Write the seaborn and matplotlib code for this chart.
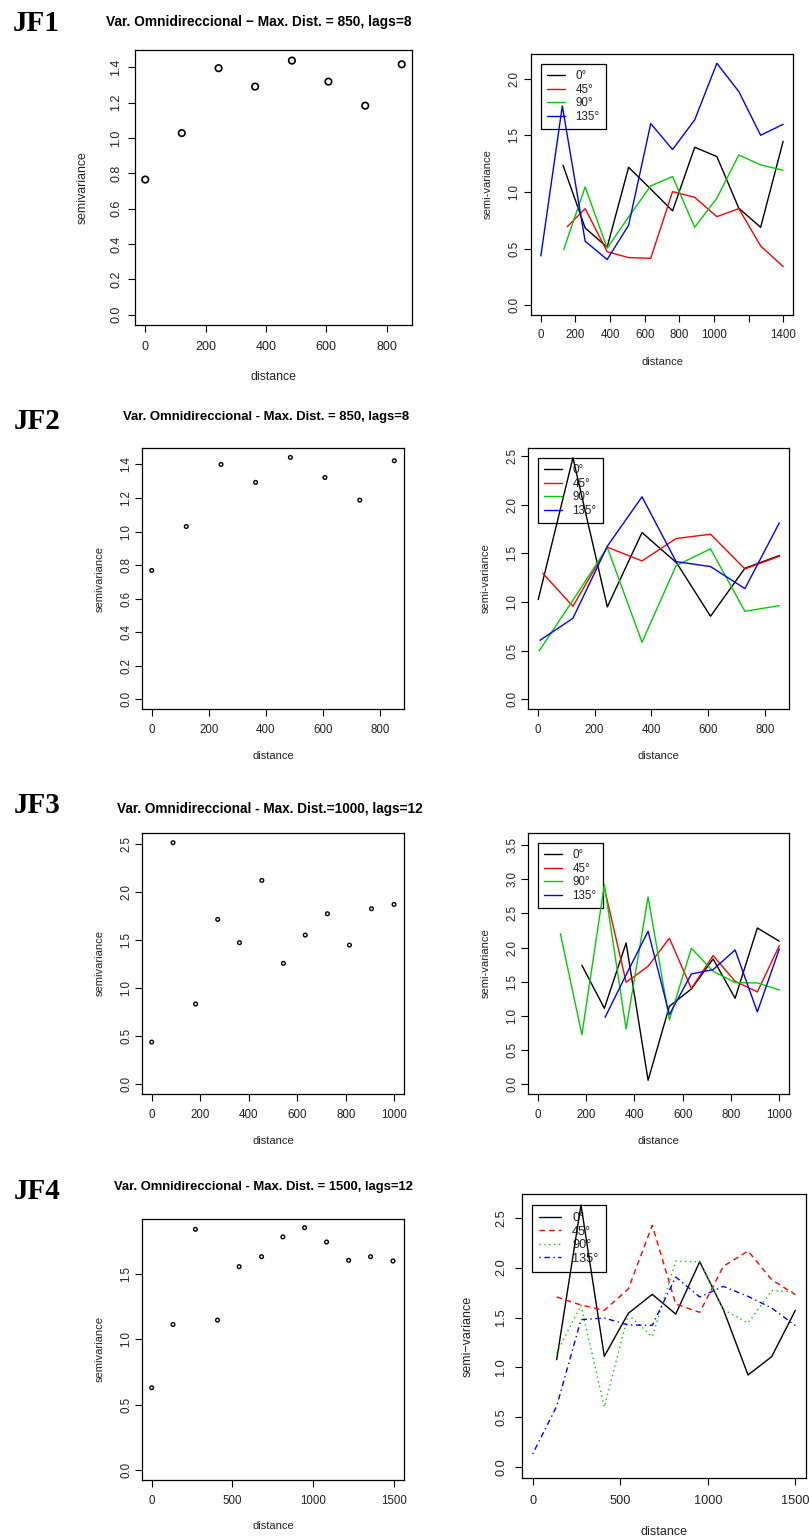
import numpy as np
import pandas as pd
import matplotlib
matplotlib.use("Agg")
import matplotlib.pyplot as plt
from matplotlib.lines import Line2D
import seaborn as sns

# ---------------- data ----------------
DIRS = ["0°", "45°", "90°", "135°"]
PAL = {"0°": "black", "45°": "red", "90°": "#00CD00", "135°": "blue"}

# omnidirectional variograms (left column)
jf1_omni_x = [0, 121, 243, 364, 486, 607, 729, 850]
jf1_omni_y = [0.765, 1.028, 1.395, 1.291, 1.438, 1.319, 1.183, 1.417]
jf2_omni_x = [0, 121, 243, 364, 486, 607, 729, 850]
jf2_omni_y = [0.768, 1.030, 1.400, 1.293, 1.442, 1.322, 1.187, 1.422]
jf3_omni_x = [0, 88, 181, 272, 362, 454, 543, 633, 724, 815, 906, 999]
jf3_omni_y = [0.440, 2.514, 0.836, 1.716, 1.474, 2.122, 1.259, 1.553, 1.775, 1.449, 1.827, 1.872]
jf4_omni_x = [0, 132, 271, 408, 542, 681, 813, 948, 1084, 1221, 1357, 1496]
jf4_omni_y = [0.628, 1.112, 1.839, 1.145, 1.554, 1.630, 1.781, 1.852, 1.742, 1.602, 1.630, 1.597]

# directional variograms (right column)
jf1_d0_x = [128, 256, 383, 507, 636, 761, 889, 1017, 1144, 1270, 1400]
jf1_d0_y = [1.237, 0.683, 0.513, 1.219, 1.025, 0.834, 1.396, 1.314, 0.857, 0.689, 1.449]
jf1_d45_x = [153, 256, 383, 507, 635, 761, 889, 1017, 1144, 1270, 1400]
jf1_d45_y = [0.695, 0.854, 0.474, 0.421, 0.415, 1.004, 0.954, 0.783, 0.854, 0.524, 0.342]
jf1_d90_x = [132, 256, 383, 507, 635, 761, 889, 1017, 1144, 1270, 1400]
jf1_d90_y = [0.492, 1.046, 0.504, 0.780, 1.055, 1.137, 0.689, 0.946, 1.328, 1.240, 1.193]
jf1_d135_x = [0, 124, 256, 383, 507, 635, 761, 889, 1017, 1144, 1270, 1400]
jf1_d135_y = [0.436, 1.761, 0.566, 0.404, 0.707, 1.605, 1.376, 1.638, 2.138, 1.888, 1.502, 1.599]

jf2_d0_x = [2, 124, 245, 367, 489, 608, 729, 850]
jf2_d0_y = [1.024, 2.479, 0.949, 1.712, 1.400, 0.853, 1.346, 1.476]
jf2_d45_x = [18, 124, 245, 367, 487, 608, 729, 850]
jf2_d45_y = [1.295, 0.955, 1.562, 1.421, 1.651, 1.695, 1.339, 1.469]
jf2_d90_x = [5, 124, 245, 367, 487, 608, 729, 850]
jf2_d90_y = [0.497, 1.017, 1.560, 0.586, 1.373, 1.545, 0.904, 0.962]
jf2_d135_x = [8, 124, 245, 367, 487, 608, 729, 850]
jf2_d135_y = [0.606, 0.832, 1.572, 2.079, 1.414, 1.363, 1.137, 1.812]

jf3_d0_x = [183, 276, 366, 457, 545, 636, 726, 817, 909, 1000]
jf3_d0_y = [1.740, 1.109, 2.067, 0.054, 1.139, 1.393, 1.833, 1.256, 2.287, 2.092]
jf3_d45_x = [276, 366, 457, 545, 636, 726, 817, 909, 1000]
jf3_d45_y = [2.874, 1.491, 1.725, 2.136, 1.398, 1.882, 1.505, 1.349, 2.028]
jf3_d90_x = [94, 183, 276, 366, 457, 545, 636, 726, 817, 909, 1000]
jf3_d90_y = [2.204, 0.723, 2.923, 0.806, 2.742, 0.938, 1.989, 1.652, 1.486, 1.481, 1.378]
jf3_d135_x = [279, 366, 457, 545, 636, 726, 817, 909, 1000]
jf3_d135_y = [0.978, 1.600, 2.239, 1.017, 1.613, 1.676, 1.965, 1.056, 1.979]

jf4_lag_x = [137, 276, 409, 546, 683, 817, 954, 1089, 1230, 1365, 1500]
jf4_d0_y = [1.078, 2.627, 1.111, 1.542, 1.732, 1.535, 2.059, 1.580, 0.925, 1.108, 1.572]
jf4_d45_y = [1.706, 1.625, 1.572, 1.786, 2.423, 1.635, 1.552, 2.013, 2.166, 1.879, 1.729]
jf4_d90_y = [1.145, 1.622, 0.604, 1.529, 1.308, 2.066, 2.056, 1.579, 1.445, 1.769, 1.756]
jf4_d135_x = [0, 137, 276, 409, 546, 683, 817, 954, 1089, 1230, 1365, 1500]
jf4_d135_y = [0.134, 0.611, 1.479, 1.495, 1.425, 1.422, 1.906, 1.706, 1.812, 1.712, 1.595, 1.419]

titles = [
    "Var. Omnidireccional \u2212 Max. Dist. = 850, lags=8",
    "Var. Omnidireccional - Max. Dist. = 850, lags=8",
    "Var. Omnidireccional - Max. Dist.=1000, lags=12",
    "Var. Omnidireccional - Max. Dist. = 1500, lags=12",
]
panel_labels = ["JF1", "JF2", "JF3", "JF4"]

# ---------------- style ----------------
sns.set_style("ticks")
plt.rcParams["font.family"] = ["Liberation Sans", "DejaVu Sans"]

W, H = 809, 1540
fig = plt.figure(figsize=(W / 100, H / 100), dpi=100)
PT = 100 / 72.0


def make_ax(box):
    x0, y0, x1, y1 = box
    return fig.add_axes([x0 / W, 1 - y1 / H, (x1 - x0) / W, (y1 - y0) / H])


def finish(ax, box, xlim, ylim, xticks, xlabels, yticks, ylabels, ylabel,
           tick_fs, lab_fs, ypad, xpad, ylab_off, xlab_off):
    w = box[2] - box[0]
    h = box[3] - box[1]
    ax.set_xlim(xlim)
    ax.set_ylim(ylim)
    ax.set_xticks(xticks)
    ax.set_xticklabels(xlabels)
    ax.set_yticks(yticks)
    ax.set_yticklabels(ylabels, rotation=90, va="center")
    ax.tick_params(axis="both", direction="out", length=5, width=0.8,
                   color="black", labelsize=tick_fs, labelcolor="#222222")
    ax.tick_params(axis="y", pad=ypad)
    ax.tick_params(axis="x", pad=xpad)
    for s in ax.spines.values():
        s.set_visible(True)
        s.set_linewidth(0.9)
        s.set_color("black")
    ax.set_xlabel("distance", fontsize=lab_fs, color="#222222")
    ax.set_ylabel(ylabel, fontsize=lab_fs, color="#222222")
    ax.xaxis.set_label_coords(0.5, -xlab_off / h)
    ax.xaxis.label.set_va("center")
    ax.yaxis.set_label_coords(-ylab_off / w, 0.5)
    ax.yaxis.label.set_va("center")
    ax.grid(False)


def omni(ax, x, y, s, lw):
    sns.scatterplot(x=x, y=y, ax=ax, color="black", s=s, marker="o",
                    linewidth=lw, legend=False)
    coll = ax.collections[-1]
    coll.set_facecolor("none")
    coll.set_edgecolor("black")


def directional(ax, box, series, leg_xy, leg_fs, dashes=None, ls=0.12,
                hlen=1.5):
    frames = [pd.DataFrame({"dist": xs, "gamma": ys, "dir": d})
              for d, (xs, ys) in series.items()]
    df = pd.concat(frames, ignore_index=True)
    kw = dict(data=df, x="dist", y="gamma", hue="dir", hue_order=DIRS,
              palette=PAL, estimator=None, sort=False, ax=ax, legend=False,
              linewidth=1.0)
    if dashes is not None:
        kw.update(style="dir", style_order=DIRS, dashes=dashes)
    sns.lineplot(**kw)
    for ln in ax.get_lines():
        ln.set_zorder(3)
    handles = []
    for d in DIRS:
        if dashes is not None and dashes[d] != "":
            handles.append(Line2D([], [], color=PAL[d], lw=1.0, dashes=dashes[d]))
        else:
            handles.append(Line2D([], [], color=PAL[d], lw=1.0, linestyle="-"))
    w = box[2] - box[0]
    h = box[3] - box[1]
    fx = (leg_xy[0] - box[0]) / w
    fy = 1 - (leg_xy[1] - box[1]) / h
    leg = ax.legend(handles, DIRS, loc="upper left", bbox_to_anchor=(fx, fy),
                    borderaxespad=0, frameon=True, fancybox=False,
                    edgecolor="black", facecolor="white", framealpha=1,
                    fontsize=leg_fs, borderpad=0.55, labelspacing=ls,
                    handlelength=hlen, handletextpad=0.9)
    leg.get_frame().set_linewidth(0.9)
    for t in leg.get_texts():
        t.set_color("#222222")
    leg.set_zorder(2.5)


# ---------------- panels ----------------
B1L = (135, 50, 412, 325)
B1R = (531, 54, 793, 315)
B2L = (142, 448, 404, 709)
B2R = (528, 448, 789, 709)
B3L = (142, 833, 404, 1094)
B3R = (528, 833, 789, 1094)
B4L = (142, 1219, 404, 1480)
B4R = (522, 1194, 806, 1478)

y14 = [0, 0.2, 0.4, 0.6, 0.8, 1.0, 1.2, 1.4]
y14l = ["0.0", "0.2", "0.4", "0.6", "0.8", "1.0", "1.2", "1.4"]

# JF1
ax = make_ax(B1L)
omni(ax, jf1_omni_x, jf1_omni_y, s=22, lw=1.2)
finish(ax, B1L, (-34, 884), (-0.058, 1.498), [0, 200, 400, 600, 800],
       ["0", "200", "400", "600", "800"], y14, y14l, "semivariance",
       9, 8.8, 6 / PT * 1.0, 9 / PT, 52, 52)

ax = make_ax(B1R)
directional(ax, B1R, {"0°": (jf1_d0_x, jf1_d0_y), "45°": (jf1_d45_x, jf1_d45_y),
                      "90°": (jf1_d90_x, jf1_d90_y), "135°": (jf1_d135_x, jf1_d135_y)},
            (541, 64), 8.4)
finish(ax, B1R, (-57, 1457), (-0.086, 2.22), [0, 200, 400, 600, 800, 1000, 1200, 1400],
       ["0", "200", "400", "600", "800", "1000", "", "1400"],
       [0, 0.5, 1.0, 1.5, 2.0], ["0.0", "0.5", "1.0", "1.5", "2.0"], "semi-variance",
       8.3, 8.1, 4 / PT, 7 / PT, 43, 47)

# JF2
ax = make_ax(B2L)
omni(ax, jf2_omni_x, jf2_omni_y, s=7, lw=1.0)
finish(ax, B2L, (-34, 884), (-0.058, 1.498), [0, 200, 400, 600, 800],
       ["0", "200", "400", "600", "800"], y14, y14l, "semivariance",
       8.3, 8.0, 2.5 / PT, 8 / PT, 42, 47.5)

ax = make_ax(B2R)
directional(ax, B2R, {"0°": (jf2_d0_x, jf2_d0_y), "45°": (jf2_d45_x, jf2_d45_y),
                      "90°": (jf2_d90_x, jf2_d90_y), "135°": (jf2_d135_x, jf2_d135_y)},
            (538, 458), 8.4)
finish(ax, B2R, (-34, 884), (-0.099, 2.58), [0, 200, 400, 600, 800],
       ["0", "200", "400", "600", "800"],
       [0, 0.5, 1.0, 1.5, 2.0, 2.5], ["0.0", "0.5", "1.0", "1.5", "2.0", "2.5"],
       "semi-variance", 8.3, 8.0, 2.5 / PT, 8 / PT, 42, 47)

# JF3
ax = make_ax(B3L)
omni(ax, jf3_omni_x, jf3_omni_y, s=7, lw=1.0)
finish(ax, B3L, (-40, 1040), (-0.10, 2.615), [0, 200, 400, 600, 800, 1000],
       ["0", "200", "400", "600", "800", "1000"],
       [0, 0.5, 1.0, 1.5, 2.0, 2.5], ["0.0", "0.5", "1.0", "1.5", "2.0", "2.5"],
       "semivariance", 8.3, 8.0, 2.5 / PT, 8 / PT, 42, 47)

ax = make_ax(B3R)
directional(ax, B3R, {"0°": (jf3_d0_x, jf3_d0_y), "45°": (jf3_d45_x, jf3_d45_y),
                      "90°": (jf3_d90_x, jf3_d90_y), "135°": (jf3_d135_x, jf3_d135_y)},
            (538, 843), 8.4)
finish(ax, B3R, (-40, 1040), (-0.147, 3.679), [0, 200, 400, 600, 800, 1000],
       ["0", "200", "400", "600", "800", "1000"],
       [0, 0.5, 1.0, 1.5, 2.0, 2.5, 3.0, 3.5],
       ["0.0", "0.5", "1.0", "1.5", "2.0", "2.5", "3.0", "3.5"],
       "semi-variance", 8.3, 8.0, 2.5 / PT, 8 / PT, 42, 46.5)

# JF4
ax = make_ax(B4L)
omni(ax, jf4_omni_x, jf4_omni_y, s=7, lw=1.0)
finish(ax, B4L, (-60, 1564), (-0.077, 1.918), [0, 500, 1000, 1500],
       ["0", "500", "1000", "1500"],
       [0, 0.5, 1.0, 1.5], ["0.0", "0.5", "1.0", "1.5"],
       "semivariance", 8.3, 8.0, 2.5 / PT, 8 / PT, 42, 46)

ax = make_ax(B4R)
jf4_dashes = {"0°": "", "45°": (4, 3), "90°": (1, 2.5), "135°": (1, 2.5, 4, 2.5)}
directional(ax, B4R, {"0°": (jf4_lag_x, jf4_d0_y), "45°": (jf4_lag_x, jf4_d45_y),
                      "90°": (jf4_lag_x, jf4_d90_y), "135°": (jf4_d135_x, jf4_d135_y)},
            (532, 1205), 9.2, dashes=jf4_dashes, ls=0.12, hlen=1.7)
finish(ax, B4R, (-61, 1561), (-0.107, 2.737), [0, 500, 1000, 1500],
       ["0", "500", "1000", "1500"],
       [0, 0.5, 1.0, 1.5, 2.0, 2.5], ["0.0", "0.5", "1.0", "1.5", "2.0", "2.5"],
       "semi\u2212variance", 9.2, 9.0, 8 / PT, 10.5 / PT, 54, 54)

# ---------------- titles and panel labels ----------------
title_pos = [(106, 26, 9.9), (123, 420.3, 9.45), (117, 813.3, 9.8), (114, 1190, 9.4)]
for t, (x, y, fs) in zip(titles, title_pos):
    fig.text(x / W, 1 - y / H, t, ha="left", va="baseline", fontsize=fs,
             fontweight="bold", color="black")

label_pos = [(12.7, 30.7), (14, 429.3), (14, 813.3), (14, 1199.3)]
for lab, (x, y) in zip(panel_labels, label_pos):
    fig.text(x / W, 1 - y / H, lab, ha="left", va="baseline", fontsize=21,
             fontweight="bold", family=["Liberation Serif", "DejaVu Serif"],
             color="black")

fig.savefig("out.png", dpi=100)
